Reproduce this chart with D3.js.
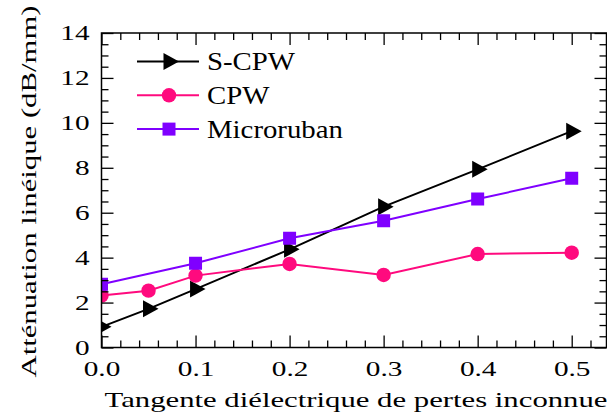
<!DOCTYPE html>
<html>
<head>
<meta charset="utf-8">
<script src="https://cdn.jsdelivr.net/npm/d3@7"></script>
<style>
  body { margin: 0; background: #fff; }
  svg { display: block; }
</style>
</head>
<body>
<div id="chart"></div>
<script>
var xMajor = [0, 0.1, 0.2, 0.3, 0.4, 0.5]
var yMajor = [0, 2, 4, 6, 8, 10, 12, 14]

var scpwX = [0, 0.05, 0.1, 0.2, 0.3, 0.4, 0.5]
var scpwY = [0.92, 1.72, 2.6, 4.37, 6.27, 7.93, 9.63]

var cpwX = [0, 0.05, 0.1, 0.2, 0.3, 0.4, 0.5]
var cpwY = [2.31, 2.53, 3.2, 3.72, 3.23, 4.16, 4.22]

var microX = [0, 0.1, 0.2, 0.3, 0.4, 0.5]
var microY = [2.82, 3.75, 4.86, 5.64, 6.61, 7.53]

var seriesNames = ['S-CPW', 'CPW', 'Microruban']
var seriesColors = ['#000000', '#ff0a7e', '#7f00ff']
var seriesShapes = ['triangle', 'circle', 'square']

var xTitle = 'Tangente diélectrique de pertes inconnue'
var yTitle = 'Atténuation linéique (dB/mm)'

var width = 607, height = 420
var margin = {left: 101.5, right: 0.5, top: 33, bottom: 72.5}
var font = "'Liberation Serif'"
var stretch = 1.36       // the reference is squeezed vertically, so stretch glyphs sideways
var titleStretch = 1.43

var svg = d3.select('#chart').append('svg')
  .attr('width', width)
  .attr('height', height)

var x = d3.scaleLinear().domain([0, 0.537]).range([margin.left, width - margin.right])
var y = d3.scaleLinear().domain([0, 14]).range([height - margin.bottom, margin.top])

var xMinor = d3.range(0, 0.537, 0.02).filter(v => Math.abs(v*10 - Math.round(v*10)) > 1e-6)
var yMinor = d3.range(0, 14.01, 0.5).filter(v => v % 2 != 0)

var majorLen = 12, minorLen = 7

svg.append('defs').append('clipPath').attr('id', 'plot-clip')
  .append('rect')
  .attr('x', x(0)).attr('y', y(14))
  .attr('width', x.range()[1] - x(0))
  .attr('height', y(0) - y(14))

function markerPath(shape){
  if (shape == 'triangle') return 'M-5.5,-8.5L10,0L-5.5,8.5Z'
  if (shape == 'circle') return d3.symbol(d3.symbolCircle, Math.PI*7.2*7.2)()
  return 'M-6.5,-6.5H6.5V6.5H-6.5Z'
}

var series = [
  {xs: scpwX, ys: scpwY},
  {xs: cpwX, ys: cpwY},
  {xs: microX, ys: microY},
].map((s, i) => ({
  name: seriesNames[i],
  color: seriesColors[i],
  shape: seriesShapes[i],
  pts: s.xs.map((v, j) => [v, s.ys[j]])
}))

var plot = svg.append('g').attr('clip-path', 'url(#plot-clip)')
var line = d3.line().x(d => x(d[0])).y(d => y(d[1]))

series.forEach(s => {
  var g = plot.append('g')
  g.append('path')
    .attr('d', line(s.pts))
    .attr('fill', 'none')
    .attr('stroke', s.color)
    .attr('stroke-width', 2)
  g.selectAll('path.mark').data(s.pts).join('path')
    .attr('class', 'mark')
    .attr('transform', d => `translate(${x(d[0])},${y(d[1])})`)
    .attr('d', markerPath(s.shape))
    .attr('fill', s.color)
})

function addAxis(axis, tr, vals, len, withText){
  var g = svg.append('g')
    .attr('transform', tr)
    .call(axis.tickValues(vals).tickSize(-len).tickSizeOuter(0))
  g.attr('font-family', null).attr('font-size', null)
  g.select('.domain').remove()
  g.selectAll('line').attr('stroke', '#000').attr('stroke-width', 1.3)
  if (!withText) g.selectAll('text').remove()
  return g
}

// bottom
var bx = addAxis(d3.axisBottom(x).tickFormat(d3.format('.1f')).tickPadding(13),
  `translate(0,${y(0)})`, xMajor, majorLen, true)
addAxis(d3.axisBottom(x), `translate(0,${y(0)})`, xMinor, minorLen, false)
// top
addAxis(d3.axisTop(x), `translate(0,${y(14)})`, xMajor, majorLen, false)
addAxis(d3.axisTop(x), `translate(0,${y(14)})`, xMinor, minorLen, false)
// left
var ly = addAxis(d3.axisLeft(y).tickFormat(d3.format('d')).tickPadding(12),
  `translate(${x(0)},0)`, yMajor, majorLen, true)
addAxis(d3.axisLeft(y), `translate(${x(0)},0)`, yMinor, minorLen, false)
// right
addAxis(d3.axisRight(y), `translate(${x.range()[1]},0)`, yMajor, majorLen, false)
addAxis(d3.axisRight(y), `translate(${x.range()[1]},0)`, yMinor, minorLen, false)

bx.selectAll('text')
  .style('font-family', font)
  .style('font-size', '21.5px')
  .attr('transform', `scale(${stretch},1)`)

ly.selectAll('text')
  .style('font-family', font)
  .style('font-size', '21.5px')
  .attr('x', -12/stretch)
  .attr('transform', `scale(${stretch},1)`)

// frame on top of the marks
svg.append('rect')
  .attr('x', x(0)).attr('y', y(14))
  .attr('width', x.range()[1] - x(0))
  .attr('height', y(0) - y(14))
  .attr('fill', 'none')
  .attr('stroke', '#000')
  .attr('stroke-width', 1.5)

// legend
var legend = svg.append('g').attr('transform', 'translate(137,61.5)')
series.forEach((s, i) => {
  var g = legend.append('g').attr('transform', `translate(0,${i*33.8})`)
  g.append('line')
    .attr('x1', 0).attr('x2', 62)
    .attr('stroke', s.color)
    .attr('stroke-width', 2)
  g.append('path')
    .attr('transform', 'translate(32,0)')
    .attr('d', markerPath(s.shape))
    .attr('fill', s.color)
  g.append('text')
    .attr('transform', 'translate(70,0) scale(1.13,1)')
    .attr('dy', '0.34em')
    .style('font-family', font)
    .style('font-size', '25.5px')
    .text(s.name)
})

// axis titles
svg.append('text')
  .attr('transform', `translate(${(108 + 604)/2},407) scale(${titleStretch},1)`)
  .attr('text-anchor', 'middle')
  .style('font-family', font)
  .style('font-size', '21.5px')
  .text(xTitle)

svg.append('text')
  .attr('transform', `translate(36,191.5) rotate(-90) scale(${titleStretch},1)`)
  .attr('text-anchor', 'middle')
  .style('font-family', font)
  .style('font-size', '21.5px')
  .text(yTitle)
</script>
</body>
</html>
